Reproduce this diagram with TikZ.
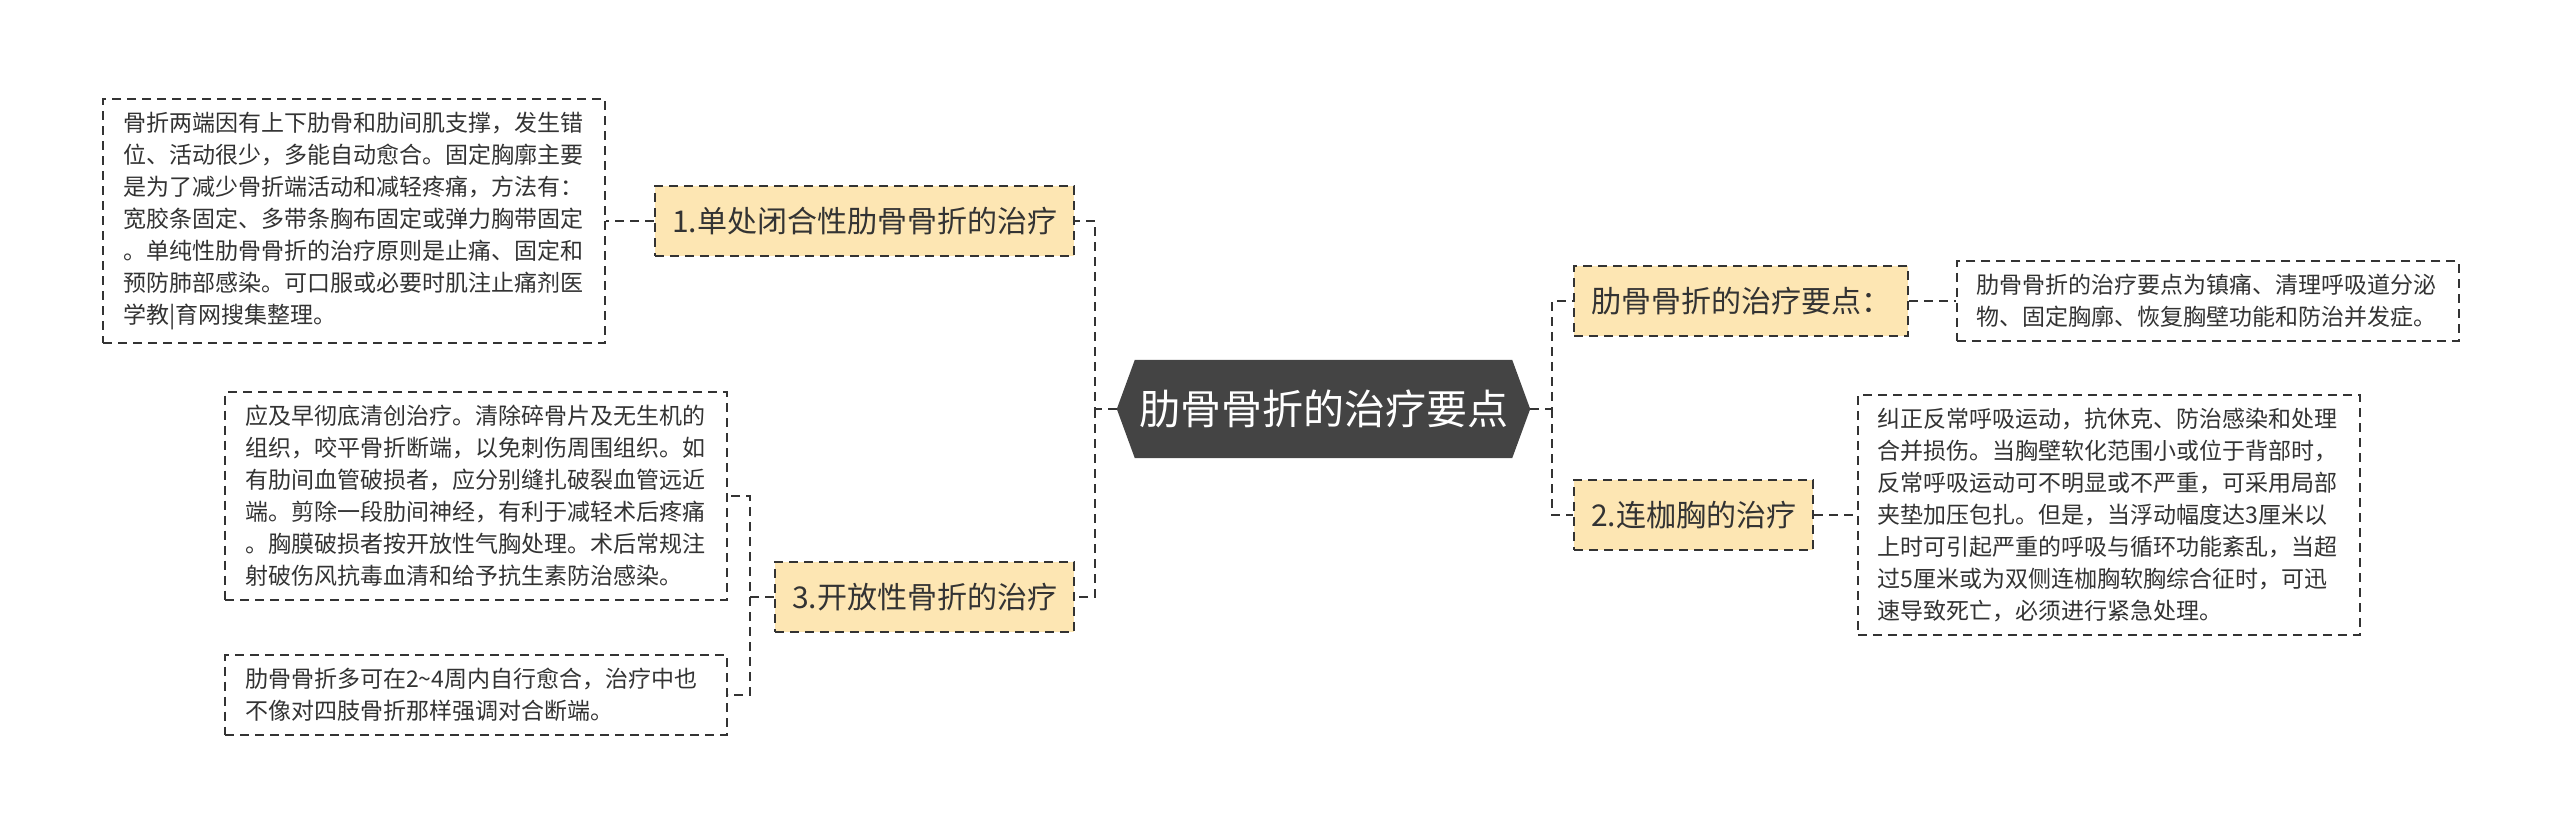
\documentclass[tikz,border=0pt]{standalone}
\usepackage{fontspec}
\setmainfont{Noto Sans CJK SC}
\usetikzlibrary{backgrounds}

\definecolor{branchfill}{HTML}{FDE6B3}
\definecolor{rootfill}{HTML}{444444}
\definecolor{linegray}{HTML}{333333}

\tikzset{
  link/.style={draw=linegray,line width=2pt,dash pattern=on 9pt off 6pt},
  branchbox/.style={draw=linegray,fill=branchfill,line width=2pt,dash pattern=on 9pt off 6pt,
    text=linegray,font=\fontsize{30pt}{36pt}\selectfont,minimum height=70pt,inner xsep=17pt},
  leafbox/.style={draw=linegray,fill=white,line width=1.6pt,dash pattern=on 9pt off 6pt,
    text=linegray,font=\fontsize{23pt}{32pt}\selectfont,text width=462pt,align=left,
    inner xsep=20pt,inner ysep=13pt},
  rootbox/.style={text=white,font=\fontsize{41pt}{48pt}\selectfont,minimum width=413pt,minimum height=98pt}
}

\begin{document}
\begin{tikzpicture}[x=1pt,y=-1pt]
\useasboundingbox (0,0) rectangle (2560,840);

% centre
\node[rootbox] (root) at (1323.5,409) {肋骨骨折的治疗要点};
\begin{pgfonlayer}{background}
\fill[rootfill] (root.west) -- ([xshift=18pt]root.north west) -- ([xshift=-18pt]root.north east)
  -- (root.east) -- ([xshift=-18pt]root.south east) -- ([xshift=18pt]root.south west) -- cycle;
\end{pgfonlayer}
%
% left side
\node[branchbox,anchor=east] (closed) at (1075,221) {1.单处闭合性肋骨骨折的治疗};
\node[branchbox,anchor=east] (open) at (1075,597) {3.开放性骨折的治疗};
\node[leafbox,anchor=east] (closednote) at (606,221) {骨折两端因有上下肋骨和肋间肌支撑，发生错\\位、活动很少，多能自动愈合。固定胸廓主要\\是为了减少骨折端活动和减轻疼痛，方法有：\\宽胶条固定、多带条胸布固定或弹力胸带固定\\。单纯性肋骨骨折的治疗原则是止痛、固定和\\预防肺部感染。可口服或必要时肌注止痛剂医\\学教|育网搜集整理。};
\node[leafbox,anchor=east] (opennote) at (728,496) {应及早彻底清创治疗。清除碎骨片及无生机的\\组织，咬平骨折断端，以免刺伤周围组织。如\\有肋间血管破损者，应分别缝扎破裂血管远近\\端。剪除一段肋间神经，有利于减轻术后疼痛\\。胸膜破损者按开放性气胸处理。术后常规注\\射破伤风抗毒血清和给予抗生素防治感染。};
\node[leafbox,anchor=east] (healnote) at (728,695) {肋骨骨折多可在2\textasciitilde4周内自行愈合，治疗中也\\不像对四肢骨折那样强调对合断端。};
%
% right side
\node[branchbox,anchor=west] (keypts) at (1573,301) {肋骨骨折的治疗要点：};
\node[branchbox,anchor=west] (flail) at (1573,515) {2.连枷胸的治疗};
\node[leafbox,anchor=west] (keynote) at (1956,301) {肋骨骨折的治疗要点为镇痛、清理呼吸道分泌\\物、固定胸廓、恢复胸壁功能和防治并发症。};
\node[leafbox,anchor=west] (flailnote) at (1857,515) {纠正反常呼吸运动，抗休克、防治感染和处理\\合并损伤。当胸壁软化范围小或位于背部时，\\反常呼吸运动可不明显或不严重，可采用局部\\夹垫加压包扎。但是，当浮动幅度达3厘米以\\上时可引起严重的呼吸与循环功能紊乱，当超\\过5厘米或为双侧连枷胸软胸综合征时，可迅\\速导致死亡，必须进行紧急处理。};
%
% connectors
\coordinate (ltrunk) at (1095,409);
\coordinate (rtrunk) at (1552,409);
\coordinate (otrunk) at (750,597);
\draw[link] (root.west) -- (ltrunk) |- (closed.east);
\draw[link] (ltrunk) |- (open.east);
\draw[link] (root.east) -- (rtrunk) |- (keypts.west);
\draw[link] (rtrunk) |- (flail.west);
\draw[link] (closed.west) -- (closednote.east);
\draw[link] (open.west) -- (otrunk) |- (opennote.east);
\draw[link] (otrunk) |- (healnote.east);
\draw[link] (keypts.east) -- (keynote.west);
\draw[link] (flail.east) -- (flailnote.west);
\end{tikzpicture}
\end{document}
